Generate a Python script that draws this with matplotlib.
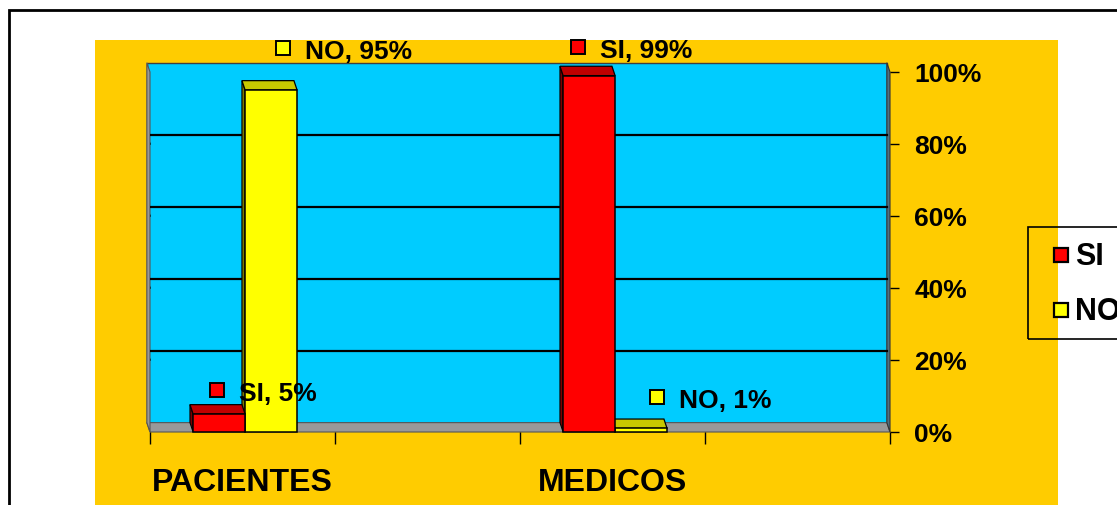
import numpy as np
import matplotlib.pyplot as plt
from matplotlib.patches import Rectangle, Polygon
from matplotlib.lines import Line2D
from matplotlib.transforms import ScaledTranslation

plt.rcParams['font.family'] = ['Liberation Sans', 'DejaVu Sans']
plt.rcParams['font.weight'] = 'bold'

categories = ['PACIENTES', 'MEDICOS']
series = ['SI', 'NO']
si_vals = [0.05, 0.99]
no_vals = [0.95, 0.01]
yticks = [0, 0.2, 0.4, 0.6, 0.8, 1.0]

W, H = 1117, 506
fig = plt.figure(figsize=(W / 100, H / 100), dpi=100)


def fx(x):
    return x / W


def fy(y):
    return 1 - y / H


# background: outer frame, orange chart area, legend box
fig.add_artist(Rectangle((fx(1028), fy(340)), fx(120), 112 / H, facecolor='white',
                         edgecolor='none', transform=fig.transFigure, zorder=-3))
fig.add_artist(Rectangle((fx(95), fy(510)), fx(963), 469 / H, facecolor='#FFCC00',
                         edgecolor='none', transform=fig.transFigure, zorder=-2))
fig.add_artist(Rectangle((fx(1028), fy(340)), fx(120), 112 / H, fill=False,
                         edgecolor='black', lw=1.2, transform=fig.transFigure, zorder=5))
fig.add_artist(Rectangle((fx(9), fy(520)), fx(1130), 509 / H, fill=False,
                         edgecolor='black', lw=2, transform=fig.transFigure, zorder=6,
                         clip_on=False))

ax = fig.add_axes([fx(150), 1 - 433 / H, 740 / W, 360 / H])
ax.set_xlim(0, 4)
ax.set_ylim(0, 1)
ax.patch.set_visible(False)
for s in ax.spines.values():
    s.set_visible(False)

# depth offset of the 3d box (back is up and to the left)
DX, DY = -0.017, 0.026

# walls and floor
ax.add_patch(Polygon([(DX, DY), (4 + DX, DY), (4 + DX, 1 + DY), (DX, 1 + DY)],
                     closed=True, facecolor='#00CCFF', edgecolor='#404040', lw=1,
                     clip_on=False, zorder=1))
ax.add_patch(Polygon([(0, 0), (4, 0), (4 + DX, DY), (DX, DY)], closed=True,
                     facecolor='#999999', edgecolor='#555555', lw=0.8, clip_on=False, zorder=1.1))
ax.add_patch(Polygon([(0, 0), (DX, DY), (DX, 1 + DY), (0, 1)], closed=True,
                     facecolor='#999999', edgecolor='#555555', lw=0.8, clip_on=False, zorder=1.1))
ax.add_patch(Polygon([(4, 0), (4 + DX, DY), (4 + DX, 1 + DY), (4, 1)], closed=True,
                     facecolor='#4E7183', edgecolor='#333333', lw=0.8, clip_on=False, zorder=1.1))

for v in yticks[1:-1]:
    ax.plot([DX, 4 + DX], [v + DY, v + DY], color='black', lw=1.6, zorder=1.2)
    ax.plot([0, DX], [v, v + DY], color='black', lw=1.0, zorder=1.2)

colors = {'SI': ('#FF0000', '#C00000', '#7A0000'),
          'NO': ('#FFFF00', '#C8C800', '#7A7A00')}
values = {'SI': si_vals, 'NO': no_vals}
bw = 0.281
shift = 0.014


def bar3d(x0, v, name, z):
    front, top, side = colors[name]
    x1 = x0 + bw
    ax.add_patch(Polygon([(x0, 0), (x0 + DX, DY), (x0 + DX, v + DY), (x0, v)], closed=True,
                         facecolor=side, edgecolor='black', lw=0.8, zorder=z, clip_on=False))
    ax.add_patch(Polygon([(x0, v), (x1, v), (x1 + DX, v + DY), (x0 + DX, v + DY)], closed=True,
                         facecolor=top, edgecolor='black', lw=0.9, zorder=z, clip_on=False))
    ax.add_patch(Rectangle((x0, 0), bw, v, facecolor=front, edgecolor='black', lw=1.1,
                           zorder=z, clip_on=False))


# data label offsets in pixels (marker relative to bar top centre)
label_off = {('SI', 0): (-2, 24), ('NO', 0): (12, 42),
             ('SI', 1): (-11, 29), ('NO', 1): (16, 31)}

for i, cat in enumerate(categories):
    c = 2 * i + 0.5 + shift
    # right bar first, left bar drawn over its hidden side
    bar3d(c, no_vals[i], 'NO', 2)
    bar3d(c - bw, si_vals[i], 'SI', 3)
    for name, x0 in (('SI', c - bw), ('NO', c)):
        v = values[name][i]
        dx, dy = label_off[(name, i)]
        xc = x0 + bw / 2
        tm = ax.transData + ScaledTranslation(dx / 100, dy / 100, fig.dpi_scale_trans)
        ax.plot([xc], [v], marker='s', ms=10, mfc=colors[name][0], mec='black', mew=1.4,
                transform=tm, clip_on=False, zorder=6)
        tt = ax.transData + ScaledTranslation((dx + 22) / 100, (dy - 3) / 100, fig.dpi_scale_trans)
        ax.text(xc, v, f'{name}, {v:.0%}', transform=tt, ha='left', va='center',
                fontsize=19, fontweight='bold', zorder=6, clip_on=False)

# axes ticks
ax.yaxis.tick_right()
ax.set_yticks(yticks)
ax.set_yticklabels([f'{v:.0%}' for v in yticks])
ax.tick_params(axis='y', direction='out', length=6.5, width=1, pad=11, labelsize=19)
ax.set_xticks([0, 1, 2, 3, 4])
ax.set_xticklabels([])
ax.set_xticks([2 * i + 0.5 for i in range(len(categories))], minor=True)
ax.set_xticklabels(categories, minor=True)
ax.tick_params(axis='x', which='major', direction='out', length=8.5, width=1)
ax.tick_params(axis='x', which='minor', length=0, pad=25, labelsize=23)

# legend
for k, name in enumerate(series):
    y = 256 + 55 * k
    fig.add_artist(Line2D([fx(1060.5)], [fy(y)], marker='s', ms=10.5,
                          mfc=colors[name][0], mec='black', mew=1.6,
                          transform=fig.transFigure, zorder=7))
    fig.text(fx(1075), fy(y + 1), name, ha='left', va='center', fontsize=22,
             fontweight='bold', zorder=7)

fig.savefig('out.png', dpi=100)
